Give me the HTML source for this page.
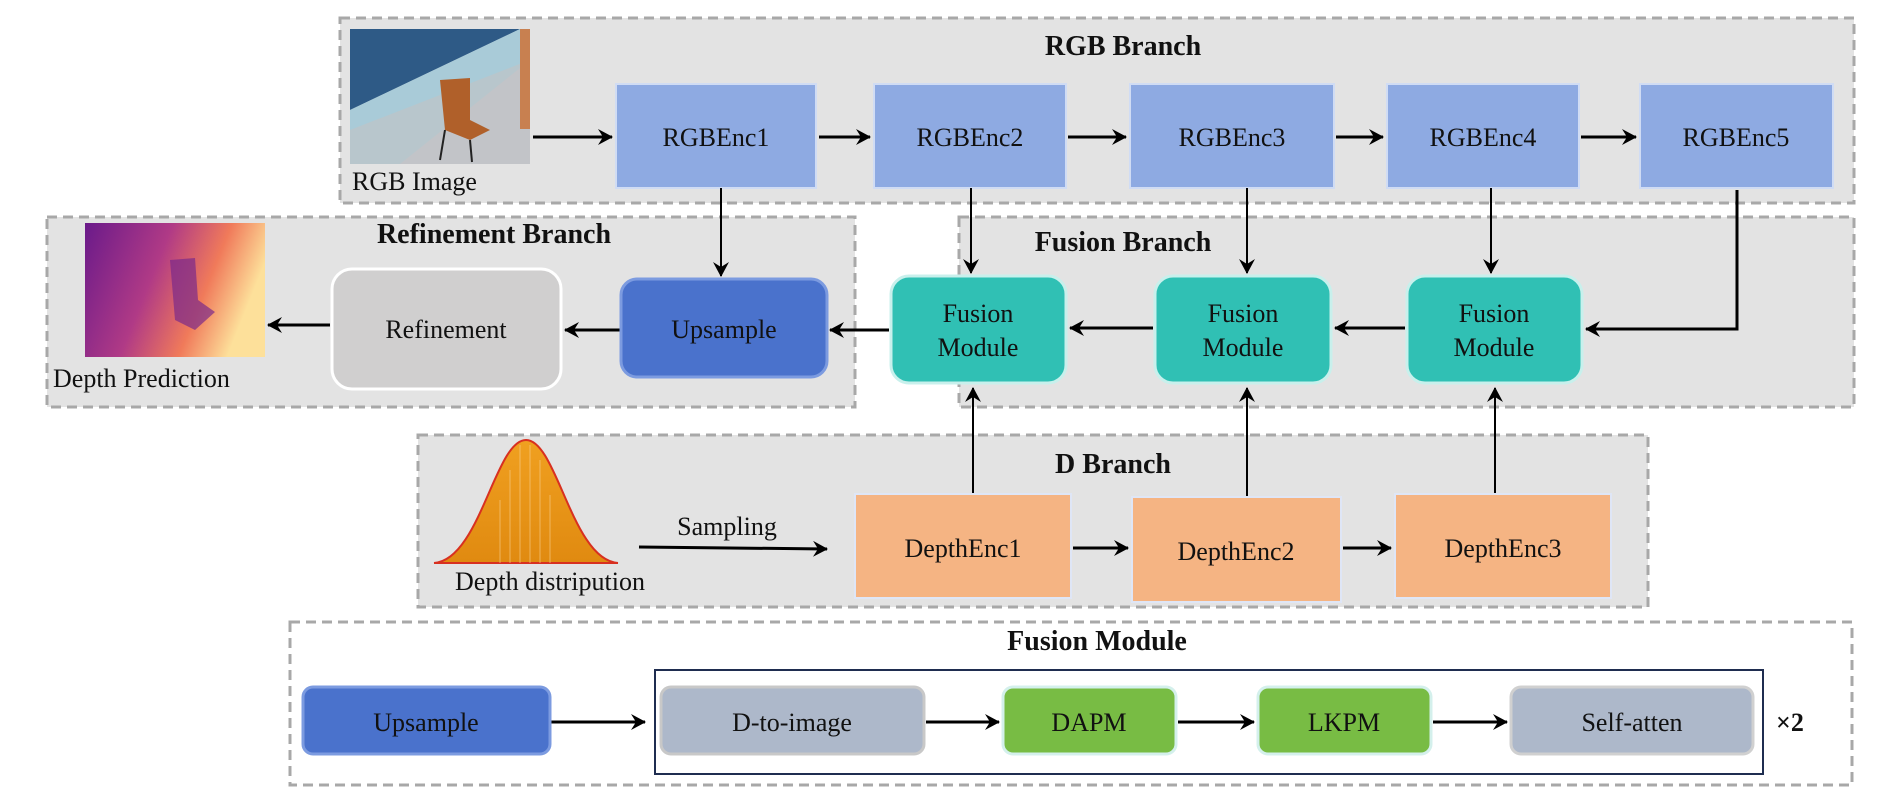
<!DOCTYPE html>
<html><head><meta charset="utf-8"><style>
html,body{margin:0;padding:0;background:#fff;}
svg{display:block;}
text{font-family:"Liberation Serif",serif;fill:#111;}
</style></head><body>
<svg width="1901" height="801" viewBox="0 0 1901 801" xmlns="http://www.w3.org/2000/svg">
<defs>
<marker id="a" markerWidth="16" markerHeight="16" refX="14" refY="8" orient="auto" markerUnits="userSpaceOnUse">
<path d="M0,0 L15,8 L0,16 L5,8 z" fill="#000"/></marker>
<linearGradient id="dp" x1="0" y1="0" x2="1" y2="0.3">
<stop offset="0" stop-color="#6a1a8a"/><stop offset="0.45" stop-color="#b03a86"/><stop offset="0.75" stop-color="#f07a5a"/><stop offset="1" stop-color="#fde09a"/></linearGradient>
<linearGradient id="gs" x1="0" y1="0" x2="0" y2="1"><stop offset="0" stop-color="#f0a020"/><stop offset="1" stop-color="#e08a10"/></linearGradient>
</defs>
<g stroke="#a8a8a8" stroke-width="3" stroke-dasharray="10,6">
<rect x="340" y="18" width="1514" height="185" fill="#e3e3e3"/>
<rect x="47" y="217" width="808" height="190" fill="#e3e3e3"/>
<rect x="959" y="217" width="895" height="190" fill="#e3e3e3"/>
<rect x="418" y="435" width="1230" height="172" fill="#e3e3e3"/>
<rect x="290" y="622" width="1562" height="163" fill="#fff"/>
</g>
<g font-size="28" font-weight="bold" text-anchor="middle">
<text x="1123" y="55">RGB Branch</text>
<text x="494" y="243">Refinement Branch</text>
<text x="1123" y="251">Fusion Branch</text>
<text x="1113" y="473">D Branch</text>
<text x="1097" y="650">Fusion Module</text></g>
<!-- RGB image -->
<rect x="350" y="29" width="180" height="135" fill="#b8c6cc"/>
<polygon points="350,29 520,29 350,110" fill="#2e5a86"/>
<polygon points="350,110 520,29 530,29 530,60 350,130" fill="#a9cbd8"/>
<polygon points="350,164 530,164 530,60 400,164" fill="#c2c4c8"/>
<rect x="520" y="29" width="10" height="100" fill="#c88050"/>
<path d="M440,80 L470,78 L470,120 L490,130 L470,140 L445,130 Z" fill="#b0602a"/>
<line x1="445" y1="130" x2="440" y2="160" stroke="#222" stroke-width="2"/><line x1="470" y1="140" x2="472" y2="162" stroke="#222" stroke-width="2"/>
<text x="352" y="190" font-size="26">RGB Image</text>
<g fill="#8eaae2" stroke="#d0dcf4" stroke-width="2">
<rect x="616" y="84" width="200" height="104"/><rect x="874" y="84" width="192" height="104"/>
<rect x="1130" y="84" width="204" height="104"/><rect x="1387" y="84" width="192" height="104"/>
<rect x="1640" y="84" width="193" height="104"/></g>
<g font-size="26" text-anchor="middle">
<text x="716" y="146">RGBEnc1</text><text x="970" y="146">RGBEnc2</text><text x="1232" y="146">RGBEnc3</text><text x="1483" y="146">RGBEnc4</text><text x="1736" y="146">RGBEnc5</text></g>
<g stroke="#000" stroke-width="3" marker-end="url(#a)" fill="none">
<line x1="533" y1="137" x2="612" y2="137"/><line x1="819" y1="137" x2="870" y2="137"/>
<line x1="1068" y1="137" x2="1126" y2="137"/><line x1="1336" y1="137" x2="1383" y2="137"/>
<line x1="1581" y1="137" x2="1636" y2="137"/>
<line x1="721" y1="188" x2="721" y2="276" stroke-width="2"/>
<line x1="971" y1="188" x2="971" y2="273" stroke-width="2"/>
<line x1="1247" y1="188" x2="1247" y2="273" stroke-width="2"/>
<line x1="1491" y1="188" x2="1491" y2="273" stroke-width="2"/>
<polyline points="1737,190 1737,329 1586,329"/>
<line x1="1405" y1="328" x2="1335" y2="328"/><line x1="1153" y1="328" x2="1070" y2="328"/>
<line x1="889" y1="330" x2="830" y2="330"/><line x1="620" y1="330" x2="565" y2="330"/>
<line x1="330" y1="325" x2="268" y2="325"/>
<line x1="973" y1="502" x2="973" y2="388" stroke-width="2"/>
<line x1="1247" y1="500" x2="1247" y2="388" stroke-width="2"/>
<line x1="1495" y1="497" x2="1495" y2="388" stroke-width="2"/>
<line x1="639" y1="547" x2="827" y2="549"/>
<line x1="1073" y1="548" x2="1128" y2="548"/><line x1="1343" y1="548" x2="1391" y2="548"/>
<line x1="550" y1="722" x2="645" y2="722"/><line x1="926" y1="722" x2="999" y2="722"/>
<line x1="1178" y1="722" x2="1254" y2="722"/><line x1="1433" y1="722" x2="1507" y2="722"/>
</g>
<!-- depth prediction -->
<rect x="85" y="223" width="180" height="134" fill="url(#dp)"/>
<path d="M170,260 L195,258 L198,300 L215,312 L195,330 L175,320 Z" fill="#7a2a8a" opacity="0.7"/>
<text x="53" y="387" font-size="26">Depth Prediction</text>
<rect x="332" y="269" width="229" height="120" rx="20" fill="#d0cfcf" stroke="#fff" stroke-width="3"/>
<text x="446" y="338" font-size="26" text-anchor="middle">Refinement</text>
<rect x="621" y="279" width="206" height="98" rx="16" fill="#4a72cc" stroke="#7c9be0" stroke-width="3"/>
<text x="724" y="338" font-size="26" text-anchor="middle">Upsample</text>
<g fill="#30c0b4" stroke="#c8f0ec" stroke-width="3">
<rect x="891" y="276" width="175" height="107" rx="18"/><rect x="1155" y="276" width="176" height="107" rx="18"/><rect x="1407" y="276" width="175" height="107" rx="18"/></g>
<g font-size="26" text-anchor="middle">
<text x="978" y="322">Fusion</text><text x="978" y="356">Module</text>
<text x="1243" y="322">Fusion</text><text x="1243" y="356">Module</text>
<text x="1494" y="322">Fusion</text><text x="1494" y="356">Module</text></g>
<!-- gaussian -->
<path d="M434,563 C480,560 495,440 526,440 C557,440 572,560 618,563 Z" fill="url(#gs)" stroke="#d83020" stroke-width="2"/>
<g stroke="#f8d090" stroke-width="1" opacity="0.6">
<line x1="500" y1="500" x2="500" y2="563"/><line x1="510" y1="470" x2="510" y2="563"/><line x1="520" y1="445" x2="520" y2="563"/><line x1="530" y1="445" x2="530" y2="563"/><line x1="540" y1="460" x2="540" y2="563"/><line x1="550" y1="495" x2="550" y2="563"/></g>
<text x="550" y="590" font-size="26" text-anchor="middle">Depth distripution</text>
<text x="727" y="535" font-size="26" text-anchor="middle">Sampling</text>
<g fill="#f5b483" stroke="#dfe6f6" stroke-width="2">
<rect x="855" y="494" width="216" height="104"/><rect x="1132" y="497" width="209" height="105"/><rect x="1395" y="494" width="216" height="104"/></g>
<g font-size="26" text-anchor="middle">
<text x="963" y="557">DepthEnc1</text><text x="1236" y="560">DepthEnc2</text><text x="1503" y="557">DepthEnc3</text></g>
<!-- fusion module detail -->
<rect x="655" y="670" width="1108" height="104" fill="none" stroke="#1f2d50" stroke-width="2"/>
<rect x="303" y="687" width="247" height="67" rx="10" fill="#4a72cc" stroke="#7c9be0" stroke-width="3"/>
<rect x="661" y="687" width="263" height="67" rx="10" fill="#adb8ca" stroke="#c8c8c8" stroke-width="3"/>
<rect x="1003" y="687" width="173" height="67" rx="10" fill="#78bc44" stroke="#d4f0ec" stroke-width="3"/>
<rect x="1258" y="687" width="173" height="67" rx="10" fill="#78bc44" stroke="#d4f0ec" stroke-width="3"/>
<rect x="1511" y="687" width="242" height="67" rx="10" fill="#adb8ca" stroke="#d0d0d0" stroke-width="3"/>
<g font-size="26" text-anchor="middle">
<text x="426" y="731">Upsample</text><text x="792" y="731">D-to-image</text><text x="1089" y="731">DAPM</text><text x="1344" y="731">LKPM</text><text x="1632" y="731">Self-atten</text></g>
<text x="1776" y="731" font-size="26" font-weight="bold">×2</text>
</svg>
</body></html>
